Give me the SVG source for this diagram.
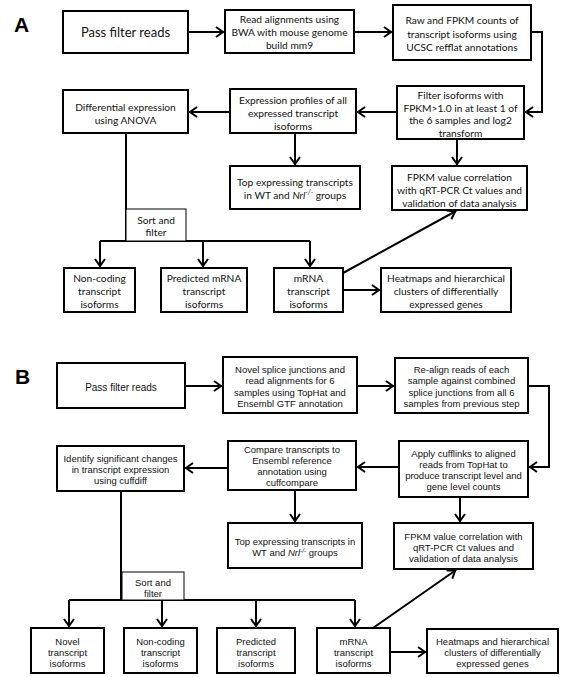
<svg xmlns="http://www.w3.org/2000/svg" width="563" height="677" viewBox="0 0 563 677">
<defs>
<style>
.box{fill:#fff;stroke:#000;stroke-width:2}
.thin{fill:#fff;stroke:#000;stroke-width:1}
.ta{font-family:Lato,"Liberation Sans",sans-serif;font-size:10.2px;fill:#111;text-anchor:middle}
.tb{font-family:"Liberation Sans",Arial,sans-serif;font-size:9.5px;fill:#111;text-anchor:middle}
.lbl{font-family:"Liberation Sans",Arial,sans-serif;font-size:21px;font-weight:bold;fill:#000}
.c{fill:none;stroke:#000;stroke-width:2}
.a{marker-end:url(#ah)}
</style>
<marker id="ah" viewBox="-10 -6 12 12" refX="0" refY="0" markerWidth="12" markerHeight="12" markerUnits="userSpaceOnUse" orient="auto">
<path d="M-8,-5 L-1,0 L-8,5" fill="none" stroke="#000" stroke-width="2"/>
</marker>
</defs>
<rect width="563" height="677" fill="#fff"/>

<text class="lbl" x="14" y="32">A</text>
<text class="lbl" x="15" y="384">B</text>

<g id="connectors">
<!-- Panel A -->
<path class="c a" d="M188,32 H224"/>
<path class="c a" d="M354,32 H392"/>
<path class="c a" d="M531,32 H542 V112 H525"/>
<path class="c a" d="M397,112 H357"/>
<path class="c a" d="M230,112 H189"/>
<path class="c a" d="M295,133 V165"/>
<path class="c a" d="M457,139 V165"/>
<path class="c" d="M126,133 V241"/>
<path class="c" d="M100,241 H310"/>
<path class="c a" d="M100,241 V267"/>
<path class="c a" d="M203,241 V267"/>
<path class="c a" d="M310,241 V267"/>
<path class="c a" d="M343,290 H380"/>
<path class="c a" d="M343,273 L456,211"/>
<!-- Panel B -->
<path class="c a" d="M185,386 H222"/>
<path class="c a" d="M357,386 H394"/>
<path class="c a" d="M528,386 H549 V467 H529"/>
<path class="c a" d="M399,467 H357"/>
<path class="c a" d="M228,468 H185"/>
<path class="c a" d="M295,490 V522"/>
<path class="c a" d="M460,497 V522"/>
<path class="c" d="M121,491 V600"/>
<path class="c" d="M69,600 H355"/>
<path class="c a" d="M69,600 V627"/>
<path class="c a" d="M162,600 V627"/>
<path class="c a" d="M256,600 V627"/>
<path class="c a" d="M355,600 V627"/>
<path class="c a" d="M390,652 H426"/>
<path class="c a" d="M373,628 L456,570"/>
</g>

<!-- Panel A nodes -->
<g id="a-pass">
<rect class="box" x="63" y="11" width="125" height="42"/>
<text class="ta" x="125.5" y="36.5" style="font-size:13px">Pass filter reads</text>
</g>
<g id="a-align">
<rect class="box" x="225" y="10" width="129" height="43"/>
<text class="ta" x="289.5" y="23">Read alignments using</text>
<text class="ta" x="289.5" y="36">BWA with mouse genome</text>
<text class="ta" x="289.5" y="49">build mm9</text>
</g>
<g id="a-raw">
<rect class="box" x="393" y="5" width="138" height="55"/>
<text class="ta" x="462" y="24">Raw and FPKM counts of</text>
<text class="ta" x="462" y="37.5">transcript isoforms using</text>
<text class="ta" x="462" y="51">UCSC refflat annotations</text>
</g>
<g id="a-filter">
<rect class="box" x="397" y="86" width="127" height="53"/>
<text class="ta" x="460.5" y="99">Filter isoforms with</text>
<text class="ta" x="460.5" y="111.5">FPKM&gt;1.0 in at least 1 of</text>
<text class="ta" x="460.5" y="124">the 6 samples and log2</text>
<text class="ta" x="460.5" y="136.5">transform</text>
</g>
<g id="a-expr">
<rect class="box" x="230" y="89" width="126" height="44"/>
<text class="ta" x="293" y="104">Expression profiles of all</text>
<text class="ta" x="293" y="117">expressed transcript</text>
<text class="ta" x="293" y="130">isoforms</text>
</g>
<g id="a-diff">
<rect class="box" x="63" y="90" width="125" height="43"/>
<text class="ta" x="125.5" y="111">Differential expression</text>
<text class="ta" x="125.5" y="124">using ANOVA</text>
</g>
<g id="a-top">
<rect class="box" x="230" y="166" width="130" height="43"/>
<text class="ta" x="295" y="186">Top expressing transcripts</text>
<text class="ta" x="295" y="199">in WT and <tspan font-style="italic">Nrl</tspan><tspan font-style="italic" font-size="7" baseline-shift="super">-/-</tspan> groups</text>
</g>
<g id="a-fpkm">
<rect class="box" x="392" y="166" width="135" height="44"/>
<text class="ta" x="459.5" y="181">FPKM value correlation</text>
<text class="ta" x="459.5" y="194">with qRT-PCR Ct values and</text>
<text class="ta" x="459.5" y="207">validation of data analysis</text>
</g>
<g id="a-sort">
<rect class="thin" x="126" y="209" width="60" height="32"/>
<text class="ta" x="156" y="224">Sort and</text>
<text class="ta" x="156" y="236">filter</text>
</g>
<g id="a-noncoding">
<rect class="box" x="64" y="268" width="71" height="44"/>
<text class="ta" x="99.5" y="282">Non-coding</text>
<text class="ta" x="99.5" y="295">transcript</text>
<text class="ta" x="99.5" y="308">isoforms</text>
</g>
<g id="a-predicted">
<rect class="box" x="161" y="268" width="86" height="44"/>
<text class="ta" x="204" y="282">Predicted mRNA</text>
<text class="ta" x="204" y="295">transcript</text>
<text class="ta" x="204" y="308">isoforms</text>
</g>
<g id="a-mrna">
<rect class="box" x="274" y="268" width="69" height="44"/>
<text class="ta" x="308.5" y="282">mRNA</text>
<text class="ta" x="308.5" y="295">transcript</text>
<text class="ta" x="308.5" y="308">isoforms</text>
</g>
<g id="a-heat">
<rect class="box" x="381" y="268" width="130" height="44"/>
<text class="ta" x="446" y="282">Heatmaps and hierarchical</text>
<text class="ta" x="446" y="295">clusters of differentially</text>
<text class="ta" x="446" y="308">expressed genes</text>
</g>

<!-- Panel B nodes -->
<g id="b-pass">
<rect class="box" x="57" y="363" width="128" height="45"/>
<text class="tb" x="121" y="390.5" style="font-size:10px">Pass filter reads</text>
</g>
<g id="b-novel-splice">
<rect class="box" x="223" y="357" width="134" height="56"/>
<text class="tb" x="290" y="372.5">Novel splice junctions and</text>
<text class="tb" x="290" y="384">read alignments for 6</text>
<text class="tb" x="290" y="395.5">samples using TopHat and</text>
<text class="tb" x="290" y="407">Ensembl GTF annotation</text>
</g>
<g id="b-realign">
<rect class="box" x="395" y="358" width="133" height="55"/>
<text class="tb" x="461.5" y="372.5">Re-align reads of each</text>
<text class="tb" x="461.5" y="384">sample against combined</text>
<text class="tb" x="461.5" y="395.5">splice junctions from all 6</text>
<text class="tb" x="461.5" y="407">samples from previous step</text>
</g>
<g id="b-apply">
<rect class="box" x="399" y="441" width="129" height="56"/>
<text class="tb" x="463.5" y="456.5">Apply cufflinks to aligned</text>
<text class="tb" x="463.5" y="467.5">reads from TopHat to</text>
<text class="tb" x="463.5" y="478.5">produce transcript level and</text>
<text class="tb" x="463.5" y="489.5">gene level counts</text>
</g>
<g id="b-compare">
<rect class="box" x="228" y="441" width="128" height="49"/>
<text class="tb" x="292" y="452.5">Compare transcripts to</text>
<text class="tb" x="292" y="463.5">Ensembl reference</text>
<text class="tb" x="292" y="474.5">annotation using</text>
<text class="tb" x="292" y="485.5">cuffcompare</text>
</g>
<g id="b-identify">
<rect class="box" x="57" y="446" width="127" height="45"/>
<text class="tb" x="120.5" y="461.5">Identify significant changes</text>
<text class="tb" x="120.5" y="472.5">in transcript expression</text>
<text class="tb" x="120.5" y="483.5">using cuffdiff</text>
</g>
<g id="b-top">
<rect class="box" x="228" y="523" width="134" height="45"/>
<text class="tb" x="295" y="544.5">Top expressing transcripts in</text>
<text class="tb" x="295" y="555.5">WT and <tspan font-style="italic">Nrl</tspan><tspan font-style="italic" font-size="6.5" baseline-shift="super">-/-</tspan> groups</text>
</g>
<g id="b-fpkm">
<rect class="box" x="394" y="523" width="139" height="46"/>
<text class="tb" x="463.5" y="539.5">FPKM value correlation with</text>
<text class="tb" x="463.5" y="550.5">qRT-PCR Ct values and</text>
<text class="tb" x="463.5" y="561.5">validation of data analysis</text>
</g>
<g id="b-sort">
<rect class="thin" x="122" y="572" width="62" height="28"/>
<text class="tb" x="153" y="585.5">Sort and</text>
<text class="tb" x="153" y="596.5">filter</text>
</g>
<g id="b-novel">
<rect class="box" x="31" y="628" width="73" height="45"/>
<text class="tb" x="67.5" y="644.5">Novel</text>
<text class="tb" x="67.5" y="655.5">transcript</text>
<text class="tb" x="67.5" y="666.5">isoforms</text>
</g>
<g id="b-noncoding">
<rect class="box" x="124" y="628" width="73" height="45"/>
<text class="tb" x="160.5" y="644.5">Non-coding</text>
<text class="tb" x="160.5" y="655.5">transcript</text>
<text class="tb" x="160.5" y="666.5">isoforms</text>
</g>
<g id="b-predicted">
<rect class="box" x="217" y="628" width="78" height="45"/>
<text class="tb" x="256" y="644.5">Predicted</text>
<text class="tb" x="256" y="655.5">transcript</text>
<text class="tb" x="256" y="666.5">isoforms</text>
</g>
<g id="b-mrna">
<rect class="box" x="317" y="628" width="73" height="45"/>
<text class="tb" x="353.5" y="644.5">mRNA</text>
<text class="tb" x="353.5" y="655.5">transcript</text>
<text class="tb" x="353.5" y="666.5">isoforms</text>
</g>
<g id="b-heat">
<rect class="box" x="427" y="629" width="131" height="44"/>
<text class="tb" x="492.5" y="645">Heatmaps and hierarchical</text>
<text class="tb" x="492.5" y="656">clusters of differentially</text>
<text class="tb" x="492.5" y="667">expressed genes</text>
</g>
</svg>
